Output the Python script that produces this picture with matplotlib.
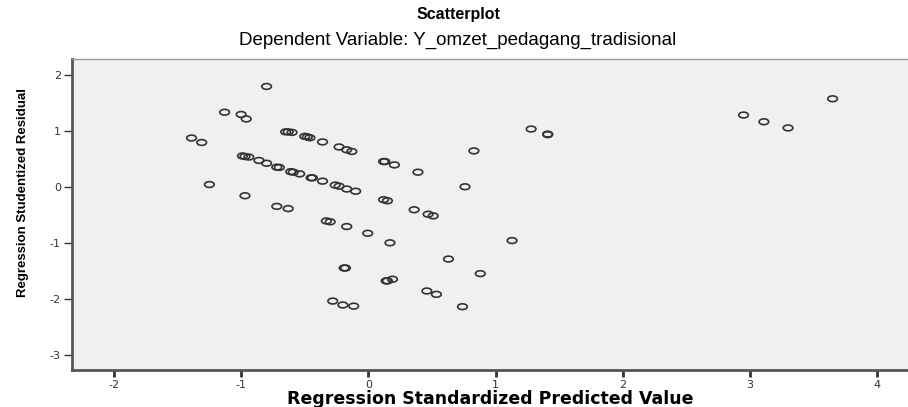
import numpy as np
import matplotlib.pyplot as plt
from matplotlib.path import Path
from matplotlib.transforms import Affine2D

plt.rcParams['axes.unicode_minus'] = False

# predicted (standardized) values and studentized residuals
pred = [-0.80, -1.13, -1.00, -0.96, -1.39, -1.31, -0.65, -0.63, -0.60, -0.50,
        -0.48, -0.46, -0.36, -0.23, -0.17, -0.13, 0.12, 0.13, 0.205, 0.39,
        0.83, 1.28, 1.41, 1.41, 2.95, 3.11, 3.30, 3.65,
        -0.99, -0.97, -0.94, -0.86, -0.80, -0.72, -0.70, -0.61, -0.59, -0.54,
        -0.45, -0.44, -0.36, -0.26, -0.23, -0.17, -0.10, 0.12, 0.15, 0.36,
        0.47, 0.51, 0.76, -1.25, -0.97, -0.72, -0.63,
        -0.33, -0.30, -0.17, -0.005, 0.17, 1.13, 0.63, -0.18, -0.19, 0.88,
        0.14, 0.15, 0.19, 0.46, 0.535, -0.28, -0.20, -0.115, 0.74]
resid = [1.79, 1.33, 1.29, 1.21, 0.87, 0.79, 0.98, 0.98, 0.97, 0.90,
         0.89, 0.875, 0.80, 0.71, 0.66, 0.63, 0.45, 0.45, 0.39, 0.26,
         0.64, 1.03, 0.94, 0.93, 1.28, 1.16, 1.05, 1.57,
         0.55, 0.54, 0.53, 0.47, 0.42, 0.35, 0.345, 0.27, 0.26, 0.23,
         0.16, 0.16, 0.10, 0.03, 0.01, -0.04, -0.08, -0.23, -0.25, -0.41,
         -0.49, -0.52, 0.0, 0.04, -0.16, -0.35, -0.39,
         -0.61, -0.625, -0.71, -0.83, -1.0, -0.96, -1.29, -1.45, -1.45, -1.55,
         -1.68, -1.68, -1.65, -1.86, -1.92, -2.04, -2.11, -2.13, -2.14]

xticks = [-2, -1, 0, 1, 2, 3, 4]
yticks = [-3, -2, -1, 0, 1, 2]

fig = plt.figure(figsize=(9.08, 4.07), dpi=100)
ax = fig.add_axes([72/908, 37/407, 836/908, 311/407])
ax.set_facecolor('#f0f0f0')

# flattened open circle, like the squashed original
ell = Path.unit_circle().transformed(Affine2D().scale(1, 0.6))
ax.scatter(pred, resid, marker=ell, s=48, facecolors='none',
           edgecolors='#333333', linewidths=1.2, zorder=3)

ax.set_xlim(-2.33, 4.243)
ax.set_ylim(-3.27, 2.28)
ax.set_xticks(xticks)
ax.set_yticks(yticks)
ax.tick_params(axis='both', labelsize=8, colors='#333333', pad=2)
ax.tick_params(axis='x', length=5, width=2)
ax.tick_params(axis='y', length=6, width=1)

for s in ['left', 'bottom']:
    ax.spines[s].set_color('#555555')
    ax.spines[s].set_linewidth(2)
ax.spines['top'].set_color('#9a9a9a')
ax.spines['top'].set_linewidth(1)
ax.spines['right'].set_visible(False)

ax.set_xlabel('Regression Standardized Predicted Value', fontsize=12.5,
              fontweight='bold', family='DejaVu Sans', labelpad=0)
ax.set_ylabel('Regression Studentized Residual', fontsize=9.5, fontweight='bold',
              family=['Liberation Sans Narrow', 'Liberation Sans'])
ax.yaxis.set_label_coords(-0.052, 0.572)

fig.text(458/908, 1 - 14/407, 'Scatterplot', ha='center', va='center',
         fontsize=11.5, fontweight='bold', family='Liberation Sans')
fig.text(458/908, 1 - 40/407, 'Dependent Variable: Y_omzet_pedagang_tradisional',
         ha='center', va='center', fontsize=13.5, family='Liberation Sans')

fig.savefig('out.png', dpi=100)
